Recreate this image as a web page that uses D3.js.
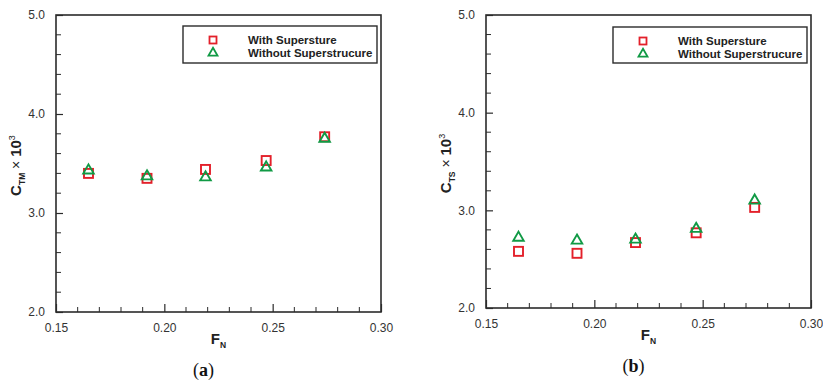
<!DOCTYPE html>
<html>
<head>
<meta charset="utf-8">
<script src="https://cdn.jsdelivr.net/npm/d3@7"></script>
<style>
  html, body { margin: 0; padding: 0; background: #fff; }
  svg { display: block; }
</style>
</head>
<body>
<svg id="chart" width="823" height="382"></svg>
<script>
// ---------- data ----------
const froude = [0.165, 0.192, 0.219, 0.247, 0.274];
const ctmWith = [3.40, 3.35, 3.44, 3.53, 3.77];
const ctmWithout = [3.43, 3.37, 3.36, 3.46, 3.75];
const ctsWith = [2.58, 2.56, 2.67, 2.77, 3.03];
const ctsWithout = [2.72, 2.69, 2.70, 2.81, 3.10];
const seriesNames = ["With Supersture", "Without Superstrucure"];
const xTicks = [0.15, 0.20, 0.25, 0.30];
const yTicks = [2.0, 3.0, 4.0, 5.0];
const panelLabels = ["a", "b"];
const ySubs = ["TM", "TS"];

const RED = "#e3202a";
const GREEN = "#109a45";
const AXIS = "#2b2b2b";

const svg = d3.select("#chart");

const panels = [
  { left: 56, right: 381, top: 15, bottom: 312, withV: ctmWith, withoutV: ctmWithout,
    label: panelLabels[0], sub: ySubs[0], legend: { x0: 183, x1: 377, y0: 26, y1: 63 } },
  { left: 486, right: 811, top: 15, bottom: 308, withV: ctsWith, withoutV: ctsWithout,
    label: panelLabels[1], sub: ySubs[1], legend: { x0: 613, x1: 807, y0: 27, y1: 63 } }
];

function triPath(s) {
  const h = s * Math.sqrt(3) / 2;
  return `M0,${-h * 2 / 3}L${s / 2},${h / 3}L${-s / 2},${h / 3}Z`;
}

panels.forEach(p => {
  const g = svg.append("g");
  const x = d3.scaleLinear().domain([0.15, 0.30]).range([p.left, p.right]);
  const y = d3.scaleLinear().domain([2.0, 5.0]).range([p.bottom, p.top]);

  // frame
  g.append("rect")
    .attr("x", p.left).attr("y", p.top)
    .attr("width", p.right - p.left).attr("height", p.bottom - p.top)
    .attr("fill", "none").attr("stroke", AXIS).attr("stroke-width", 1.6);

  // minor ticks
  const xMinor = d3.range(16, 30).map(v => v / 100).filter(v => Math.abs(v * 20 - Math.round(v * 20)) > 1e-6);
  const yMinor = d3.range(2.2, 5.0, 0.2).filter(v => Math.abs(v - Math.round(v)) > 1e-6);

  // bottom axis (ticks inward)
  const xAxis = d3.axisBottom(x).tickValues(xTicks).tickFormat(d3.format(".2f"))
    .tickSizeInner(-8).tickSizeOuter(0).tickPadding(11);
  const gx = g.append("g").attr("transform", `translate(0,${p.bottom})`).call(xAxis);
  gx.select(".domain").remove();
  gx.selectAll(".tick line").attr("stroke", AXIS).attr("stroke-width", 1.2);
  gx.selectAll(".tick text").attr("fill", "#333").attr("font-family", "Liberation Sans, Arial, sans-serif")
    .attr("font-size", 12);
  g.append("g").selectAll("line").data(xMinor).join("line")
    .attr("x1", d => x(d)).attr("x2", d => x(d))
    .attr("y1", p.bottom).attr("y2", p.bottom - 5)
    .attr("stroke", AXIS).attr("stroke-width", 1);

  // left axis (ticks inward)
  const yAxis = d3.axisLeft(y).tickValues(yTicks).tickFormat(d3.format(".1f"))
    .tickSizeInner(-7).tickSizeOuter(0).tickPadding(11);
  const gy = g.append("g").attr("transform", `translate(${p.left},0)`).call(yAxis);
  gy.select(".domain").remove();
  gy.selectAll(".tick line").attr("stroke", AXIS).attr("stroke-width", 1.2);
  gy.selectAll(".tick text").attr("fill", "#333").attr("font-family", "Liberation Sans, Arial, sans-serif")
    .attr("font-size", 12);
  g.append("g").selectAll("line").data(yMinor).join("line")
    .attr("x1", p.left).attr("x2", p.left + 5)
    .attr("y1", d => y(d)).attr("y2", d => y(d))
    .attr("stroke", AXIS).attr("stroke-width", 1);

  // data: squares
  const sq = 9;
  g.append("g").selectAll("rect").data(froude.map((f, i) => [f, p.withV[i]])).join("rect")
    .attr("x", d => x(d[0]) - sq / 2).attr("y", d => y(d[1]) - sq / 2)
    .attr("width", sq).attr("height", sq)
    .attr("fill", "none").attr("stroke", RED).attr("stroke-width", 1.9);
  // data: triangles
  g.append("g").selectAll("path").data(froude.map((f, i) => [f, p.withoutV[i]])).join("path")
    .attr("transform", d => `translate(${x(d[0])},${y(d[1])})`)
    .attr("d", triPath(10.5))
    .attr("fill", "none").attr("stroke", GREEN).attr("stroke-width", 1.9);

  // legend
  const L = p.legend;
  g.append("rect").attr("x", L.x0).attr("y", L.y0).attr("width", L.x1 - L.x0).attr("height", L.y1 - L.y0)
    .attr("fill", "#fff").attr("stroke", AXIS).attr("stroke-width", 1.4);
  const mx = L.x0 + 30;
  const row1 = L.y0 + 14, row2 = L.y0 + 27;
  g.append("rect").attr("x", mx - 3.5).attr("y", row1 - 3.5).attr("width", 7).attr("height", 7)
    .attr("fill", "none").attr("stroke", RED).attr("stroke-width", 1.8);
  g.append("path").attr("transform", `translate(${mx},${row2})`).attr("d", triPath(9))
    .attr("fill", "none").attr("stroke", GREEN).attr("stroke-width", 1.8);
  [row1, row2].forEach((ry, i) => {
    g.append("text").attr("x", L.x0 + 65).attr("y", ry + 4)
      .attr("font-family", "Liberation Sans, Arial, sans-serif").attr("font-weight", "bold")
      .attr("font-size", 11.5).attr("fill", "#222").text(seriesNames[i]);
  });

  // y label
  const cy = (p.top + p.bottom) / 2 + 2;
  const yl = g.append("text")
    .attr("transform", `translate(${p.left - 35},${cy}) rotate(-90)`)
    .attr("text-anchor", "middle")
    .attr("font-family", "Liberation Sans, Arial, sans-serif").attr("font-size", 15).attr("fill", "#222");
  yl.append("tspan").attr("font-weight", "bold").text("C");
  yl.append("tspan").attr("font-weight", "bold").attr("font-size", 8.5).attr("dy", 4).text(p.sub);
  yl.append("tspan").attr("dy", -4).attr("font-size", 14).text(" \u00d7 ");
  yl.append("tspan").attr("font-weight", "bold").text("10");
  yl.append("tspan").attr("font-size", 9).attr("dy", -6).text("3");

  // x label
  const xl = g.append("text")
    .attr("x", (p.left + p.right) / 2).attr("y", p.bottom + 32)
    .attr("text-anchor", "middle")
    .attr("font-family", "Liberation Sans, Arial, sans-serif").attr("font-size", 15).attr("fill", "#222");
  xl.append("tspan").attr("font-weight", "bold").text("F");
  xl.append("tspan").attr("font-weight", "bold").attr("font-size", 8.5).attr("dy", 4).text("N");

  // caption
  const cap = g.append("text")
    .attr("x", (p.left + p.right) / 2 - 15).attr("y", p.bottom + 64)
    .attr("text-anchor", "middle")
    .attr("font-family", "Liberation Serif, 'DejaVu Serif', serif").attr("font-size", 18).attr("fill", "#111");
  cap.append("tspan").text("(");
  cap.append("tspan").attr("font-weight", "bold").text(p.label);
  cap.append("tspan").text(")");
});
</script>
</body>
</html>
